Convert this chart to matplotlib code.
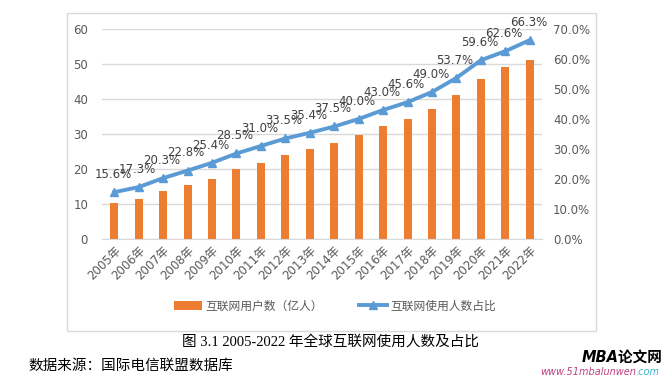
import numpy as np
import matplotlib
matplotlib.use('Agg')
import matplotlib.pyplot as plt
from matplotlib.patches import Rectangle

plt.rcParams['font.family'] = ['DejaVu Sans', 'Noto Sans CJK SC']

years = ['2005年', '2006年', '2007年', '2008年', '2009年', '2010年', '2011年', '2012年', '2013年',
         '2014年', '2015年', '2016年', '2017年', '2018年', '2019年', '2020年', '2021年', '2022年']
users = [10.4, 11.5, 13.7, 15.5, 17.2, 19.9, 21.8, 23.9, 25.6,
         27.5, 29.6, 32.2, 34.4, 37.2, 41.2, 45.8, 49.0, 51.0]
share = [15.6, 17.3, 20.3, 22.8, 25.4, 28.5, 31.0, 33.5, 35.4,
         37.5, 40.0, 43.0, 45.6, 49.0, 53.7, 59.6, 62.6, 66.3]
left_ticks = [0, 10, 20, 30, 40, 50, 60]
right_ticks = [0, 10, 20, 30, 40, 50, 60, 70]

bar_color = '#ED7D31'
line_color = '#5B9BD5'
txt = '#595959'

W, H = 665, 380
fig = plt.figure(figsize=(W / 100, H / 100), dpi=100)

# chart frame
fig.patches.append(Rectangle((67 / W, 1 - 331 / H), (596 - 67) / W, (331 - 13) / H,
                             transform=fig.transFigure, fill=False, ec='#D9D9D9', lw=1))

ax = fig.add_axes([102 / W, 1 - 239 / H, (542 - 102) / W, (239 - 29) / H])
x = np.arange(len(years))
ax.bar(x, users, width=0.33, color=bar_color, zorder=2, label='互联网用户数（亿人）')
ax.set_xlim(-0.5, len(years) - 0.5)
ax.set_ylim(0, 60)
ax.set_yticks(left_ticks)
ax.grid(axis='y', color='#D9D9D9', lw=1, zorder=0)
for s in ['top', 'right', 'left']:
    ax.spines[s].set_visible(False)
ax.spines['bottom'].set_color('#D9D9D9')
ax.tick_params(length=0, colors=txt, labelsize=8.5)
ax.tick_params(axis='y', pad=10)
ax.set_xticks(x)
ax.set_xticklabels(years, rotation=45, ha='right', rotation_mode='anchor', fontsize=8.5)

ax2 = ax.twinx()
ax2.plot(x, share, color=line_color, lw=2.8, marker='^', ms=6, zorder=3, label='互联网使用人数占比')
ax2.set_ylim(0, 70)
ax2.set_yticks(right_ticks)
ax2.set_yticklabels(['%.1f%%' % v for v in right_ticks])
for s in ax2.spines.values():
    s.set_visible(False)
ax2.tick_params(length=0, colors=txt, labelsize=8.5, pad=8)
for xi, v in zip(x, share):
    ax2.annotate('%.1f%%' % v, (xi, v), xytext=(-1, 8), textcoords='offset points',
                 ha='center', va='bottom', fontsize=8.5, color='#404040')

h1, l1 = ax.get_legend_handles_labels()
h2, l2 = ax2.get_legend_handles_labels()
fig.legend(h1 + h2, l1 + l2, loc='center', bbox_to_anchor=(335 / W, 1 - 306 / H), ncol=2,
           frameon=False, fontsize=8.5, labelcolor=txt, columnspacing=3, handlelength=2.4,
           handletextpad=0.3)

serif = ['Liberation Serif', 'Noto Sans CJK SC']
fig.text(330 / W, 1 - 342 / H, '图 3.1 2005-2022 年全球互联网使用人数及占比', ha='center', va='center',
         fontsize=10.5, family=serif)
fig.text(28 / W, 1 - 366 / H, '数据来源：国际电信联盟数据库', ha='left', va='center',
         fontsize=10.5, family=serif)

fig.text(622 / W, 1 - 357 / H, 'MBA论文网', ha='center', va='center', fontsize=10.5,
         fontweight='bold', style='italic')
url = fig.text(540 / W, 1 - 372 / H, 'www.51mbalunwen', ha='left', va='center', fontsize=7,
               color='#C04080', style='italic')
fig.canvas.draw()
bb = url.get_window_extent()
fig.text(bb.x1 / W, 1 - 372 / H, '.com', ha='left', va='center', fontsize=7,
         color='#40B0D0', style='italic')

fig.savefig('out.png', dpi=100)
